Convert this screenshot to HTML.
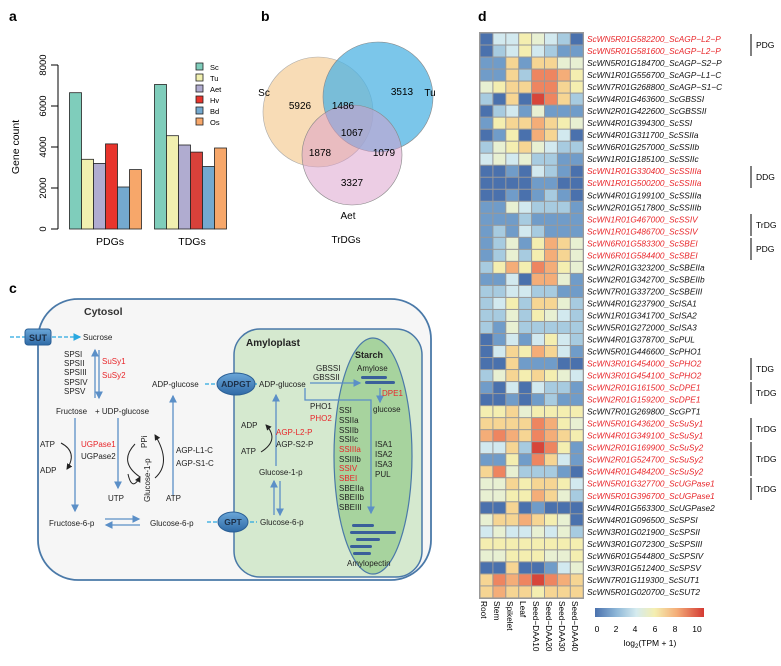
<!DOCTYPE html>
<html><head><meta charset="utf-8"><style>
html,body{margin:0;padding:0;background:#fff;}
svg{display:block;font-family:"Liberation Sans",Arial,sans-serif;}
.t{font-size:8px;fill:#222;}
.r{font-size:8px;fill:#e8262a;}
.gl{font-size:8.3px;font-style:italic;fill:#111;}
.gr{font-size:8.3px;font-style:italic;fill:#e8262a;}
</style></head><body>
<svg id="s" width="781" height="666" viewBox="0 0 781 666" xmlns="http://www.w3.org/2000/svg">
<defs>
<marker id="ab" markerWidth="6" markerHeight="6" refX="5" refY="3" orient="auto"><path d="M0,0 L6,3 L0,6z" fill="#5b8fc7"/></marker>
<marker id="ac" markerWidth="6" markerHeight="6" refX="5" refY="3" orient="auto"><path d="M0,0 L6,3 L0,6z" fill="#29a8e0"/></marker>
<marker id="ak" markerWidth="6" markerHeight="6" refX="5" refY="3" orient="auto"><path d="M0,0 L6,3 L0,6z" fill="#222"/></marker>
<linearGradient id="cb" x1="0" x2="1"><stop offset="0" stop-color="#4a71ad"/><stop offset="0.2" stop-color="#8fb8d8"/><stop offset="0.38" stop-color="#d5ebef"/><stop offset="0.55" stop-color="#f4eeb0"/><stop offset="0.75" stop-color="#f4ad78"/><stop offset="1" stop-color="#d43a33"/></linearGradient>
<linearGradient id="eb" x1="0" y1="0" x2="0" y2="1"><stop offset="0" stop-color="#6aa6d8"/><stop offset="1" stop-color="#2f6aa6"/></linearGradient>
</defs>

<!-- Panel a -->
<text x="9" y="21" font-size="14" font-weight="bold">a</text>
<line x1="58" y1="65" x2="58" y2="229" stroke="#000"/>
<g stroke="#000"><line x1="51" y1="65" x2="58" y2="65"/><line x1="51" y1="106" x2="58" y2="106"/><line x1="51" y1="147" x2="58" y2="147"/><line x1="51" y1="188" x2="58" y2="188"/><line x1="51" y1="229" x2="58" y2="229"/></g>
<g font-size="9.5" text-anchor="middle">
<text transform="translate(46,65) rotate(-90)">8000</text>
<text transform="translate(46,106) rotate(-90)">6000</text>
<text transform="translate(46,147) rotate(-90)">4000</text>
<text transform="translate(46,188) rotate(-90)">2000</text>
<text transform="translate(46,229) rotate(-90)">0</text>
<text transform="translate(19,147) rotate(-90)" font-size="10.5">Gene count</text>
<text x="110" y="245" font-size="10.5">PDGs</text>
<text x="192" y="245" font-size="10.5">TDGs</text>
</g>
<g stroke="#222" stroke-width="0.8">
<rect x="69.5" y="92.7" width="12" height="136.3" fill="#7fcdbb"/>
<rect x="81.5" y="159.3" width="12" height="69.7" fill="#f1f0b0"/>
<rect x="93.5" y="163.4" width="12" height="65.6" fill="#b0acd0"/>
<rect x="105.5" y="143.9" width="12" height="85.1" fill="#e8342c"/>
<rect x="117.5" y="187" width="12" height="42" fill="#74a9cf"/>
<rect x="129.5" y="169.6" width="12" height="59.4" fill="#f7a76a"/>
<rect x="154.5" y="84.5" width="12" height="144.5" fill="#7fcdbb"/>
<rect x="166.5" y="135.7" width="12" height="93.3" fill="#f1f0b0"/>
<rect x="178.5" y="145" width="12" height="84" fill="#b0acd0"/>
<rect x="190.5" y="152.1" width="12" height="76.9" fill="#d8413a"/>
<rect x="202.5" y="166.5" width="12" height="62.5" fill="#74a9cf"/>
<rect x="214.5" y="148" width="12" height="81" fill="#f7a76a"/>
<rect x="196" y="63" width="7" height="7" fill="#7fcdbb"/>
<rect x="196" y="74" width="7" height="7" fill="#f1f0b0"/>
<rect x="196" y="85" width="7" height="7" fill="#b0acd0"/>
<rect x="196" y="96" width="7" height="7" fill="#e8342c"/>
<rect x="196" y="107" width="7" height="7" fill="#74a9cf"/>
<rect x="196" y="118" width="7" height="7" fill="#f7a76a"/>
</g>
<g font-size="7.5"><text x="210" y="70">Sc</text><text x="210" y="81">Tu</text><text x="210" y="92">Aet</text><text x="210" y="103">Hv</text><text x="210" y="114">Bd</text><text x="210" y="125">Os</text></g>

<!-- Panel b -->
<text x="261" y="21" font-size="14" font-weight="bold">b</text>
<circle cx="318" cy="112" r="55" fill="#f5c98f" fill-opacity="0.65" stroke="#aaa" stroke-width="0.6"/>
<circle cx="378" cy="97" r="55" fill="#4fb3e3" fill-opacity="0.75" stroke="#888" stroke-width="0.6"/>
<circle cx="352" cy="155" r="50" fill="#d99cc9" fill-opacity="0.5" stroke="#888" stroke-width="0.6"/>
<g font-size="10" text-anchor="middle">
<text x="300" y="109">5926</text><text x="343" y="109">1486</text><text x="402" y="95">3513</text>
<text x="352" y="136">1067</text><text x="320" y="156">1878</text><text x="384" y="156">1079</text>
<text x="352" y="186">3327</text>
<text x="264" y="96">Sc</text><text x="430" y="96">Tu</text><text x="348" y="219">Aet</text>
<text x="346" y="243">TrDGs</text>
</g>

<!-- Panel c -->
<text x="9" y="293" font-size="14" font-weight="bold">c</text>
<rect x="38" y="299" width="393" height="281" rx="40" fill="#f6f6f6" stroke="#4a79a8" stroke-width="1.8"/>
<text x="84" y="315" font-size="10.5" font-weight="bold" fill="#333">Cytosol</text>
<rect x="234" y="329" width="188" height="248" rx="26" fill="#d5e9cf" stroke="#4a79a8" stroke-width="1.5"/>
<ellipse cx="373" cy="456" rx="39" ry="118" fill="#a7d39e" stroke="#4a79a8" stroke-width="1.2"/>
<text x="246" y="346" font-size="10" font-weight="bold" fill="#222">Amyloplast</text>
<text x="355" y="358" font-size="9" font-weight="bold" fill="#222">Starch</text>

<!-- dashed transporters -->
<g stroke="#29a8e0" stroke-width="1.3" stroke-dasharray="4,2" fill="none">
<line x1="10" y1="337" x2="80" y2="337" marker-end="url(#ac)"/>
<line x1="205" y1="384" x2="222" y2="384"/>
<line x1="207" y1="522" x2="220" y2="522"/>
<line x1="253" y1="384" x2="258" y2="384"/>
<line x1="250" y1="522" x2="257" y2="522"/>
</g>
<rect x="25" y="329" width="26" height="16" rx="3" fill="url(#eb)" stroke="#2a5f95"/>
<text x="38" y="341" font-size="9" font-weight="bold" text-anchor="middle" fill="#1c2f47">SUT</text>
<ellipse cx="236" cy="384" rx="19" ry="11" fill="url(#eb)" stroke="#2a5f95"/>
<text x="236" y="387" font-size="8.5" font-weight="bold" text-anchor="middle" fill="#1c2f47">ADPGT</text>
<ellipse cx="233" cy="522" rx="15" ry="10" fill="url(#eb)" stroke="#2a5f95"/>
<text x="233" y="525" font-size="8.5" font-weight="bold" text-anchor="middle" fill="#1c2f47">GPT</text>

<!-- arrows blue -->
<g stroke="#5b8fc7" stroke-width="1.3" fill="none">
<line x1="95" y1="398" x2="95" y2="350" marker-end="url(#ab)"/>
<line x1="99" y1="350" x2="99" y2="398" marker-end="url(#ab)"/>
<line x1="75" y1="418" x2="75" y2="511" marker-end="url(#ab)"/>
<line x1="118" y1="418" x2="118" y2="488" marker-end="url(#ab)"/>
<line x1="173" y1="495" x2="173" y2="396" marker-end="url(#ab)"/>
<line x1="105" y1="519" x2="139" y2="519" marker-end="url(#ab)"/>
<line x1="140" y1="525" x2="106" y2="525" marker-end="url(#ab)"/>
<line x1="276" y1="466" x2="276" y2="395" marker-end="url(#ab)"/>
<line x1="274" y1="515" x2="274" y2="481" marker-end="url(#ab)"/>
<line x1="280" y1="481" x2="280" y2="515" marker-end="url(#ab)"/>
<line x1="310" y1="383" x2="360" y2="383" marker-end="url(#ab)"/>
<polyline points="305,388 305,400 371,400 371,513" marker-end="url(#ab)"/>
<line x1="380" y1="388" x2="380" y2="402" marker-end="url(#ab)"/>
</g>
<!-- black curved arrows -->
<g stroke="#222" stroke-width="1" fill="none">
<path d="M61,443 Q78,452 67,469" marker-end="url(#ak)"/>
<path d="M140,477 Q118,462 135,444" />
<path d="M128,474 Q132,492 140,477" marker-end="url(#ak)"/>
<path d="M155,478 Q172,463 155,435" marker-end="url(#ak)"/>
<path d="M261,452 Q280,440 266,425" marker-end="url(#ak)"/>
</g>
<!-- chains -->
<g fill="#3a5f9a">
<rect x="361" y="376" width="26" height="3" rx="1.5"/><rect x="365" y="381" width="30" height="3" rx="1.5"/>
<rect x="352" y="524" width="22" height="3" rx="1.5"/><rect x="350" y="531" width="46" height="3" rx="1.5"/>
<rect x="356" y="538" width="24" height="3" rx="1.5"/><rect x="350" y="545" width="22" height="3" rx="1.5"/>
<rect x="353" y="552" width="18" height="3" rx="1.5"/>
</g>

<g class="t">
<text x="83" y="340">Sucrose</text>
<text x="64" y="357">SPSI</text><text x="64" y="366">SPSII</text><text x="64" y="375">SPSIII</text><text x="64" y="385">SPSIV</text><text x="64" y="394">SPSV</text>
<text x="56" y="414">Fructose</text><text x="95" y="414">+ UDP-glucose</text>
<text x="40" y="447">ATP</text><text x="40" y="473">ADP</text>
<text x="81" y="459">UGPase2</text>
<text x="108" y="501">UTP</text><text x="166" y="501">ATP</text>
<text transform="translate(150,502) rotate(-90)">Glucose-1-p</text>
<text transform="translate(147,448) rotate(-90)">PPi</text>
<text x="176" y="453">AGP-L1-C</text><text x="176" y="466">AGP-S1-C</text>
<text x="152" y="387">ADP-glucose</text>
<text x="49" y="526">Fructose-6-p</text><text x="150" y="526">Glucose-6-p</text>
<text x="259" y="387">ADP-glucose</text>
<text x="316" y="371">GBSSI</text><text x="313" y="380">GBSSII</text>
<text x="357" y="371">Amylose</text><text x="373" y="412">glucose</text>
<text x="310" y="409">PHO1</text>
<text x="339" y="413">SSI</text><text x="339" y="423">SSIIa</text><text x="339" y="433">SSIIb</text><text x="339" y="442">SSIIc</text>
<text x="339" y="462">SSIIIb</text><text x="339" y="491">SBEIIa</text><text x="339" y="500">SBEIIb</text><text x="339" y="510">SBEIII</text>
<text x="375" y="447">ISA1</text><text x="375" y="457">ISA2</text><text x="375" y="467">ISA3</text><text x="375" y="477">PUL</text>
<text x="241" y="428">ADP</text><text x="241" y="454">ATP</text>
<text x="276" y="447">AGP-S2-P</text>
<text x="259" y="475">Glucose-1-p</text><text x="260" y="525">Glucose-6-p</text>
<text x="347" y="566">Amylopectin</text>
</g>
<g class="r">
<text x="102" y="364">SuSy1</text><text x="102" y="378">SuSy2</text>
<text x="81" y="447">UGPase1</text>
<text x="382" y="396">DPE1</text><text x="310" y="421">PHO2</text>
<text x="276" y="435">AGP-L2-P</text>
<text x="339" y="452">SSIIIa</text><text x="339" y="471">SSIV</text><text x="339" y="481">SBEI</text>
</g>

<!-- Panel d -->
<text x="478" y="21" font-size="14" font-weight="bold">d</text>
<g id="hm"></g>
<g id="lb"></g>
<g stroke="#000" stroke-width="1">
<line x1="751" y1="34" x2="751" y2="56"/><line x1="751" y1="166" x2="751" y2="188"/>
<line x1="751" y1="214" x2="751" y2="236"/><line x1="751" y1="238" x2="751" y2="260"/>
<line x1="751" y1="358" x2="751" y2="380"/><line x1="751" y1="382" x2="751" y2="404"/>
<line x1="751" y1="418" x2="751" y2="440"/><line x1="751" y1="442" x2="751" y2="476"/>
<line x1="751" y1="478" x2="751" y2="500"/>
</g>
<g font-size="8.5">
<text x="756" y="48">PDG</text><text x="756" y="180">DDG</text><text x="756" y="228">TrDG</text>
<text x="756" y="252">PDG</text><text x="756" y="372">TDG</text><text x="756" y="396">TrDG</text>
<text x="756" y="432">TrDG</text><text x="756" y="462">TrDG</text><text x="756" y="492">TrDG</text>
</g>
<g font-size="8.3">
<text transform="translate(481,601) rotate(90)">Root</text>
<text transform="translate(494,601) rotate(90)">Stem</text>
<text transform="translate(507,601) rotate(90)">Spikelet</text>
<text transform="translate(520,601) rotate(90)">Leaf</text>
<text transform="translate(533,601) rotate(90)">Seed−DAA10</text>
<text transform="translate(546,601) rotate(90)">Seed−DAA20</text>
<text transform="translate(559,601) rotate(90)">Seed−DAA30</text>
<text transform="translate(572,601) rotate(90)">Seed−DAA40</text>
</g>
<rect x="595" y="608" width="109" height="9" fill="url(#cb)"/>
<g font-size="8.5" text-anchor="middle">
<text x="597" y="632">0</text><text x="616" y="632">2</text><text x="635" y="632">4</text><text x="655" y="632">6</text><text x="675" y="632">8</text><text x="697" y="632">10</text>
<text x="650" y="646">log<tspan font-size="6" dy="2">2</tspan><tspan dy="-2">(TPM + 1)</tspan></text>
</g>
</svg>
<script>
var C=["#4a71ad","#709cc9","#a7cbe0","#d2e9ef","#e8f0d2","#f4eeb0","#f6d593","#f4ad78","#ee8560","#d7463a"];
var D=["03354320","02353211","11616644","11628875","45668865","20609862","02314111","15667654","01507630","24564322","34342211","00103210","00001100","00101210","11432221","11121111","12132111","12415764","12425764","25758754","11307741","22332211","23526642","22425432","21422222","01313532","03657631","00611100","24656543","10303221","00101211","55645555","66668754","78768765","33629851","11518631","68422210","44656653","44557642","00601000","46676540","34334342","55555555","44555445","00600134","68789876","67665666"];
var N=[["ScWN5R01G582200_ScAGP−L2−P",1],["ScWN5R01G581600_ScAGP−L2−P",1],["ScWN5R01G184700_ScAGP−S2−P",0],["ScWN1R01G556700_ScAGP−L1−C",0],["ScWN7R01G268800_ScAGP−S1−C",0],["ScWN4R01G463600_ScGBSSI",0],["ScWN2R01G422600_ScGBSSII",0],["ScWN4R01G394300_ScSSI",0],["ScWN4R01G311700_ScSSIIa",0],["ScWN6R01G257000_ScSSIIb",0],["ScWN1R01G185100_ScSSIIc",0],["ScWN1R01G330400_ScSSIIIa",1],["ScWN1R01G500200_ScSSIIIa",1],["ScWN4R01G199100_ScSSIIIa",0],["ScWN2R01G517800_ScSSIIIb",0],["ScWN1R01G467000_ScSSIV",1],["ScWN1R01G486700_ScSSIV",1],["ScWN6R01G583300_ScSBEI",1],["ScWN6R01G584400_ScSBEI",1],["ScWN2R01G323200_ScSBEIIa",0],["ScWN2R01G342700_ScSBEIIb",0],["ScWN7R01G337200_ScSBEIII",0],["ScWN4R01G237900_ScISA1",0],["ScWN1R01G341700_ScISA2",0],["ScWN5R01G272000_ScISA3",0],["ScWN4R01G378700_ScPUL",0],["ScWN5R01G446600_ScPHO1",0],["ScWN3R01G454000_ScPHO2",1],["ScWN3R01G454100_ScPHO2",1],["ScWN2R01G161500_ScDPE1",1],["ScWN2R01G159200_ScDPE1",1],["ScWN7R01G269800_ScGPT1",0],["ScWN5R01G436200_ScSuSy1",1],["ScWN4R01G349100_ScSuSy1",1],["ScWN2R01G169900_ScSuSy2",1],["ScWN2R01G524700_ScSuSy2",1],["ScWN4R01G484200_ScSuSy2",1],["ScWN5R01G327700_ScUGPase1",1],["ScWN5R01G396700_ScUGPase1",1],["ScWN4R01G563300_ScUGPase2",0],["ScWN4R01G096500_ScSPSI",0],["ScWN3R01G021900_ScSPSII",0],["ScWN3R01G072300_ScSPSIII",0],["ScWN6R01G544800_ScSPSIV",0],["ScWN3R01G512400_ScSPSV",0],["ScWN7R01G119300_ScSUT1",0],["ScWN5R01G020700_ScSUT2",0]];
var ns="http://www.w3.org/2000/svg",hm=document.getElementById("hm"),lb=document.getElementById("lb");
var bg=document.createElementNS(ns,"rect");bg.setAttribute("x",479);bg.setAttribute("y",32);bg.setAttribute("width",105);bg.setAttribute("height",567);bg.setAttribute("fill","#999");hm.appendChild(bg);
for(var i=0;i<47;i++){for(var j=0;j<8;j++){var r=document.createElementNS(ns,"rect");r.setAttribute("x",(480+j*12.9+0.5).toFixed(2));r.setAttribute("y",(33+i*12.02+0.5).toFixed(2));r.setAttribute("width",11.9);r.setAttribute("height",11.0);r.setAttribute("fill",C[+D[i][j]]);hm.appendChild(r);}
var t=document.createElementNS(ns,"text");t.setAttribute("x",587);t.setAttribute("y",(33+i*12.02+9).toFixed(2));t.setAttribute("class",N[i][1]?"gr":"gl");t.textContent=N[i][0];lb.appendChild(t);}
</script>
</body></html>
